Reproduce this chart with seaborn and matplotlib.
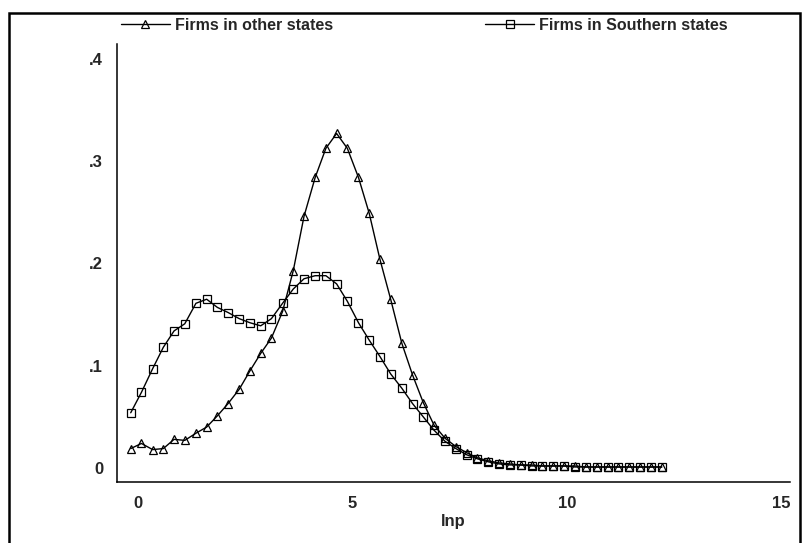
import matplotlib
matplotlib.use("Agg")
import seaborn as sns
import matplotlib.pyplot as plt
import numpy as np
import pandas as pd
from matplotlib.patches import Rectangle

# kernel density grid (lnp)
lnp = [-0.17, 0.08, 0.34, 0.59, 0.84, 1.09, 1.35, 1.60, 1.85, 2.10,
       2.36, 2.61, 2.86, 3.11, 3.37, 3.62, 3.87, 4.13, 4.38, 4.63,
       4.88, 5.14, 5.39, 5.64, 5.89, 6.15, 6.40, 6.65, 6.90, 7.16,
       7.41, 7.66, 7.91, 8.17, 8.42, 8.67, 8.92, 9.18, 9.43, 9.68,
       9.94, 10.19, 10.44, 10.69, 10.95, 11.20, 11.45, 11.70, 11.96, 12.21]

# densities
other_states = [0.019, 0.024, 0.018, 0.019, 0.028, 0.027, 0.034, 0.040, 0.051, 0.063,
                0.077, 0.095, 0.112, 0.127, 0.153, 0.193, 0.246, 0.284, 0.3125, 0.327,
                0.3125, 0.284, 0.249, 0.204, 0.165, 0.122, 0.091, 0.064, 0.042, 0.029,
                0.021, 0.015, 0.010, 0.007, 0.005, 0.004, 0.003, 0.003, 0.002, 0.002,
                0.002, 0.002, 0.001, 0.001, 0.001, 0.001, 0.001, 0.001, 0.001, 0.001]
southern_states = [0.054, 0.074, 0.097, 0.118, 0.134, 0.141, 0.161, 0.165, 0.157, 0.152,
                   0.146, 0.142, 0.139, 0.146, 0.161, 0.175, 0.185, 0.188, 0.188, 0.180,
                   0.163, 0.142, 0.125, 0.109, 0.092, 0.078, 0.063, 0.050, 0.037, 0.026,
                   0.019, 0.013, 0.009, 0.006, 0.004, 0.003, 0.003, 0.002, 0.002, 0.002,
                   0.002, 0.001, 0.001, 0.001, 0.001, 0.001, 0.001, 0.001, 0.001, 0.001]

series_names = ["Firms in other states", "Firms in Southern states"]
x_ticks = [0, 5, 10, 15]
y_ticks = [0, 0.1, 0.2, 0.3, 0.4]
y_labels = ["0", ".1", ".2", ".3", ".4"]

df = pd.DataFrame({
    "lnp": lnp * 2,
    "density": other_states + southern_states,
    "group": [series_names[0]] * len(lnp) + [series_names[1]] * len(lnp),
})

sns.set_style("white")
plt.rcParams["font.family"] = ["Liberation Sans Narrow", "Liberation Sans", "DejaVu Sans"]
plt.rcParams["font.weight"] = "bold"

fig = plt.figure(figsize=(8.08, 5.43), dpi=100)
ax = fig.add_axes([0.1448, 0.1123, 0.8329, 0.8067])

sns.lineplot(data=df, x="lnp", y="density", hue="group", style="group",
             markers={series_names[0]: "^", series_names[1]: "s"}, dashes=False,
             palette=["black", "black"], legend=False, ax=ax,
             lw=1.0, ms=5.5, mfc="none", mec="black", mew=0.9)

ax.set_xlim(-0.49, 15.2)
ax.set_ylim(-0.0137, 0.4145)
ax.set_xticks(x_ticks)
ax.set_xticklabels([str(t) for t in x_ticks], fontsize=12, fontweight="bold")
ax.set_yticks(y_ticks)
ax.set_yticklabels(y_labels, fontsize=12, fontweight="bold")
ax.tick_params(axis="both", direction="out", length=6, width=0.9, color="black", pad=4)
ax.set_xlabel("lnp", fontsize=12, fontweight="bold", labelpad=2)
ax.set_ylabel("")

for side in ["top", "right"]:
    ax.spines[side].set_visible(False)
for side in ["left", "bottom"]:
    ax.spines[side].set_color("black")
    ax.spines[side].set_linewidth(1.1)

fig.legend(handles=ax.lines[:2], labels=series_names, ncol=2, loc="center",
           bbox_to_anchor=(0.525, 0.953), frameon=False,
           prop={"size": 11.5, "weight": "bold"},
           handlelength=3.1, handletextpad=0.3, columnspacing=9.5, numpoints=1)

# frame around the whole graph
fig.patches.append(Rectangle((9 / 808, -0.05), (800 - 9) / 808, 1 - 13 / 543 + 0.05,
                             transform=fig.transFigure, fill=False,
                             edgecolor="black", linewidth=1.8))

fig.savefig("out.png", dpi=100)
